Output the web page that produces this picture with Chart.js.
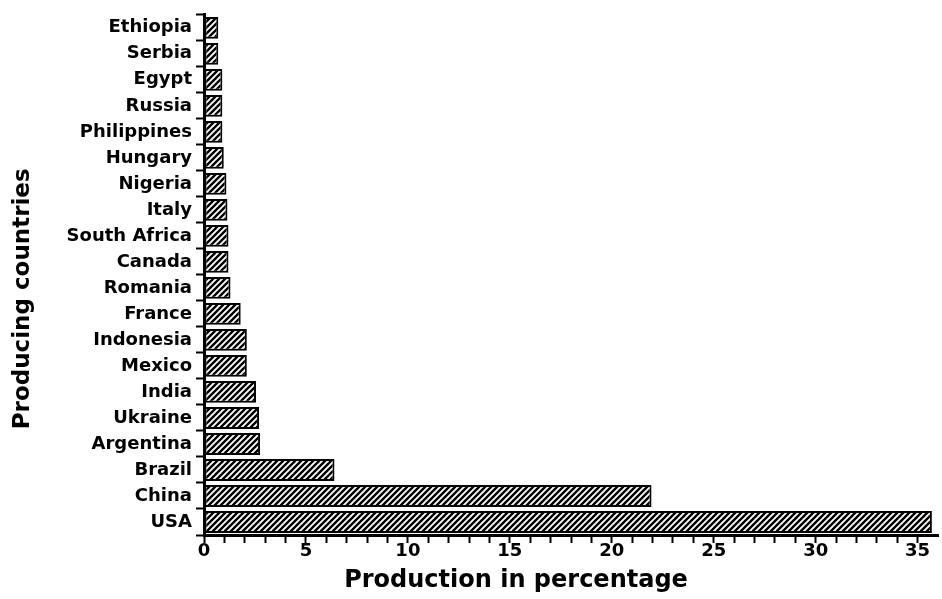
<!DOCTYPE html>
<html>
<head>
<meta charset="utf-8">
<script src="https://cdn.jsdelivr.net/npm/chart.js@4.4.0/dist/chart.umd.min.js"></script>
<style>
  html, body { margin: 0; padding: 0; background: #fff; }
  #wrap { width: 942px; height: 599px; position: relative; }
</style>
</head>
<body>
<div id="wrap"><canvas id="chart"></canvas></div>
<script>
// countries from top to bottom
const countries = ['Ethiopia', 'Serbia', 'Egypt', 'Russia', 'Philippines', 'Hungary', 'Nigeria', 'Italy',
  'South Africa', 'Canada', 'Romania', 'France', 'Indonesia', 'Mexico', 'India', 'Ukraine',
  'Argentina', 'Brazil', 'China', 'USA'];
const production = [0.7, 0.7, 0.9, 0.9, 0.9, 0.97, 1.1, 1.15,
  1.2, 1.2, 1.3, 1.8, 2.1, 2.1, 2.55, 2.7,
  2.75, 6.4, 21.95, 35.7];
const xTickLabels = [0, 5, 10, 15, 20, 25, 30, 35];
const xTitle = 'Production in percentage';
const yTitle = 'Producing countries';

// hatch fill like the original
function hatch() {
  const c = document.createElement('canvas');
  c.width = 6; c.height = 6;
  const g = c.getContext('2d');
  g.fillStyle = '#fff';
  g.fillRect(0, 0, 6, 6);
  g.strokeStyle = '#000';
  g.lineWidth = 2.4;
  g.beginPath();
  g.moveTo(-1, 7); g.lineTo(7, -1);
  g.moveTo(-4, 4); g.lineTo(4, -4);
  g.moveTo(2, 10); g.lineTo(10, 2);
  g.stroke();
  return g.createPattern(c, 'repeat');
}

// axis titles sit off-centre in the original, so draw them here
const axisTitles = {
  id: 'axisTitles',
  afterDraw(chart) {
    const { ctx, chartArea } = chart;
    ctx.save();
    ctx.fillStyle = '#000';
    ctx.textAlign = 'center';
    ctx.textBaseline = 'middle';
    ctx.font = 'bold 24px "DejaVu Sans"';
    ctx.fillText(xTitle, chartArea.left + 312, chartArea.bottom + 46);
    ctx.translate(23, chartArea.top + 284);
    ctx.rotate(-Math.PI / 2);
    ctx.font = 'bold 23px "DejaVu Sans"';
    ctx.fillText(yTitle, 0, 0);
    ctx.restore();
  }
};

const ctx = document.getElementById('chart').getContext('2d');
new Chart(ctx, {
  type: 'bar',
  data: {
    labels: countries,
    datasets: [{
      data: production,
      backgroundColor: hatch(),
      borderColor: '#000',
      borderWidth: 2,
      borderSkipped: false,
      barPercentage: 0.84,
      categoryPercentage: 1
    }]
  },
  plugins: [axisTitles],
  options: {
    indexAxis: 'y',
    responsive: true,
    maintainAspectRatio: false,
    animation: false,
    layout: { padding: { top: 10, right: 4, bottom: 0, left: 0 } },
    plugins: { legend: { display: false }, tooltip: { enabled: false } },
    scales: {
      x: {
        min: 0,
        max: 36,
        afterBuildTicks: scale => {
          scale.ticks = scale.ticks.filter(t => t.value <= 35);
        },
        afterFit: scale => { scale.height = 64; },
        border: { display: true, color: '#000', width: 3 },
        grid: { drawOnChartArea: false, color: '#000', tickLength: 8, tickWidth: 2 },
        ticks: {
          stepSize: 1,
          autoSkip: false,
          maxRotation: 0,
          padding: -2,
          color: '#000',
          font: { family: 'DejaVu Sans', weight: 'bold', size: 18 },
          callback: v => xTickLabels.includes(v) ? String(v) : ''
        }
      },
      y: {
        afterFit: scale => { scale.width = 204; },
        border: { display: true, color: '#000', width: 3 },
        grid: { drawOnChartArea: false, offset: true, color: '#000', tickLength: 8, tickWidth: 2 },
        ticks: {
          autoSkip: false,
          padding: 4,
          color: '#000',
          font: { family: 'DejaVu Sans', weight: 'bold', size: 18 }
        }
      }
    }
  }
});
</script>
</body>
</html>
